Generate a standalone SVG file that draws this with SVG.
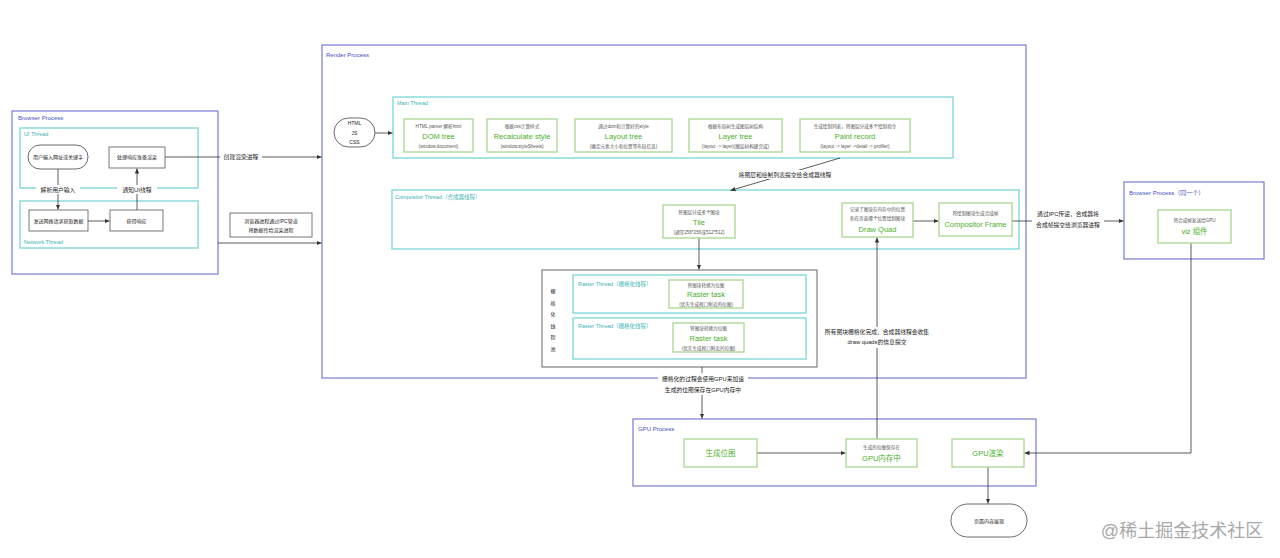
<svg xmlns="http://www.w3.org/2000/svg" width="1280" height="558" viewBox="0 0 1280 558">
<defs>
<marker id="a" markerWidth="6" markerHeight="6" refX="5" refY="3" orient="auto" markerUnits="userSpaceOnUse"><path d="M0,0.8 L5,3 L0,5.2 z" fill="#333"/></marker>
<style>
text{font-family:"Liberation Sans","Noto Sans CJK SC",sans-serif;text-anchor:middle}
.proc{fill:none;stroke:#6a6ed0;stroke-width:1.1}
.thr{fill:none;stroke:#7ad6d6;stroke-width:1.3}
.box{fill:#fff;stroke:#a8d68e;stroke-width:1.3}
.plain{fill:#fff;stroke:#555;stroke-width:0.8}
.pt{font-size:6px;fill:#3f4fc0;text-anchor:start}
.tt{font-size:5.5px;fill:#3ab4b4;text-anchor:start}
.g{font-size:7.5px;fill:#4caf2a}
.s{font-size:4.6px;fill:#555}
.d{font-size:5px;fill:#222}
.lbl{font-size:5.8px;fill:#222}
.edge{stroke:#333;stroke-width:0.8;fill:none;marker-end:url(#a)}
.bg{fill:#fff}
</style>
</defs>
<rect width="1280" height="558" fill="#fff"/>

<!-- containers -->
<g id="browser-process">
<rect class="proc" x="12" y="111" width="206" height="163"/>
<text class="pt" x="18" y="120">Browser Process</text>
</g>
<g id="ui-thread">
<rect class="thr" x="20" y="128" width="178" height="60"/>
<text class="tt" x="24" y="136">UI Thread</text>
</g>
<g id="network-thread">
<rect class="thr" x="20" y="201" width="178" height="47"/>
<text class="tt" x="24" y="244">Network Thread</text>
</g>
<g id="render-process">
<rect class="proc" x="322" y="45" width="704" height="333"/>
<text class="pt" x="326" y="57">Render Process</text>
</g>
<g id="main-thread">
<rect class="thr" x="393" y="97" width="560" height="61"/>
<text class="tt" x="397" y="105">Main Thread</text>
</g>
<g id="compositor-thread">
<rect class="thr" x="392" y="190" width="627" height="59"/>
<text class="tt" x="395" y="199">Compositor Thread（合成器线程）</text>
</g>
<g id="raster-pool">
<rect fill="none" stroke="#555" stroke-width="0.9" x="542" y="270" width="275" height="97"/>
<text class="d" x="553" y="293">栅</text>
<text class="d" x="553" y="304.5">格</text>
<text class="d" x="553" y="316">化</text>
<text class="d" x="553" y="327.5">线</text>
<text class="d" x="553" y="339">程</text>
<text class="d" x="553" y="350.5">池</text>
</g>
<g id="raster-thread-1">
<rect class="thr" x="573" y="275" width="233" height="38"/>
<text class="tt" x="578" y="286">Raster Thread（栅格化线程）</text>
</g>
<g id="raster-thread-2">
<rect class="thr" x="573" y="318" width="233" height="41"/>
<text class="tt" x="578" y="328">Raster Thread（栅格化线程）</text>
</g>
<g id="browser-process-2">
<rect class="proc" x="1124" y="182" width="140" height="77"/>
<text class="pt" x="1129" y="195">Browser Process（同一个）</text>
</g>
<g id="gpu-process">
<rect class="proc" x="633" y="419" width="403" height="67"/>
<text class="pt" x="638" y="431">GPU Process</text>
</g>

<!-- connectors -->
<g id="connectors">
<path class="edge" d="M58,169 V209.5"/>
<rect class="bg" x="36" y="185" width="44" height="9"/>
<text class="lbl" x="58" y="191.5">解析用户输入</text>
<path class="edge" d="M88,221 H109.5"/>
<path class="edge" d="M137,210 V168.5"/>
<rect class="bg" x="117" y="185" width="40" height="9"/>
<text class="lbl" x="137" y="191.5">通知UI线程</text>
<path class="edge" d="M165,157 H321.5"/>
<rect class="bg" x="220" y="152" width="42" height="10"/>
<text class="lbl" x="241" y="159">创建渲染进程</text>
<path class="edge" d="M218,243 H321.5"/>
<path class="edge" d="M375,133 H392.5"/>
<path class="edge" d="M840,158 L730.5,190.5"/>
<rect class="bg" x="732" y="170" width="106" height="9"/>
<text class="lbl" x="785" y="176.5">将图层和绘制列表提交给合成器线程</text>
<path class="edge" d="M699,238 V269.5"/>
<path class="edge" d="M913,221 H938.5"/>
<path class="edge" d="M1012,221 H1123.5"/>
<rect class="bg" x="1032" y="208" width="72" height="22"/>
<text class="lbl" x="1068" y="216">通过IPC传递，合成器将</text>
<text class="lbl" x="1068" y="227">合成帧提交给浏览器进程</text>
<path class="edge" d="M1191,243 V453 H1024.5"/>
<path class="edge" d="M702,367 V418.5"/>
<rect class="bg" x="658" y="373" width="90" height="22"/>
<text class="lbl" x="703" y="381">栅格化的过程会使用GPU来加速</text>
<text class="lbl" x="703" y="391.5">生成的位图保存在GPU内存中</text>
<path class="edge" d="M757,453 H845.5"/>
<path class="edge" d="M877,439 V237.5"/>
<rect class="bg" x="824" y="327" width="106" height="21"/>
<text class="lbl" x="877" y="334">所有图块栅格化完成，合成器线程会收集</text>
<text class="lbl" x="877" y="344">draw quads的信息提交</text>
<path class="edge" d="M988,467 V503.5"/>
</g>

<!-- nodes -->
<g id="user-input">
<rect x="28" y="145" width="60" height="24" rx="12" fill="#fff" stroke="#444" stroke-width="0.8"/>
<text class="d" x="58" y="158.5">用户输入网址或关键字</text>
</g>
<g id="prepare-render">
<rect class="plain" x="109" y="147" width="56" height="21"/>
<text class="d" x="137" y="159">处理响应准备渲染</text>
</g>
<g id="send-request">
<rect class="plain" x="29" y="210" width="59" height="21"/>
<text class="d" x="58.5" y="222.5">发送网络请求获取数据</text>
</g>
<g id="get-response">
<rect class="plain" x="110" y="210" width="53" height="21"/>
<text class="d" x="136.5" y="222.5">获得响应</text>
</g>
<g id="ipc-note">
<rect class="plain" x="230" y="213" width="82" height="24"/>
<text class="d" x="271" y="222.5">浏览器进程通过IPC管道</text>
<text class="d" x="271" y="232">将数据传给渲染进程</text>
</g>
<g id="html-js-css">
<rect x="334" y="118" width="41" height="29" rx="14.5" fill="#fff" stroke="#444" stroke-width="0.8"/>
<text class="d" x="354.5" y="125">HTML</text>
<text class="d" x="354.5" y="134.5">JS</text>
<text class="d" x="354.5" y="144">CSS</text>
</g>
<g id="dom-tree">
<rect class="box" x="404" y="119" width="69" height="33"/>
<text class="s" x="438.5" y="127.5">HTML parser 解析html</text>
<text class="g" x="438.5" y="138.5">DOM tree</text>
<text class="s" x="438.5" y="148">(window.document)</text>
</g>
<g id="recalculate-style">
<rect class="box" x="487" y="119" width="70" height="33"/>
<text class="s" x="522" y="127.5">根据css计算样式</text>
<text class="g" x="522" y="138.5">Recalculate style</text>
<text class="s" x="522" y="148">(window.styleSheets)</text>
</g>
<g id="layout-tree">
<rect class="box" x="575" y="119" width="97" height="33"/>
<text class="s" x="623.5" y="127.5">通过dom和计算好的style</text>
<text class="g" x="623.5" y="138.5">Layout tree</text>
<text class="s" x="623.5" y="148">(确定元素大小和位置等布局信息)</text>
</g>
<g id="layer-tree">
<rect class="box" x="689" y="119" width="93" height="33"/>
<text class="s" x="735.5" y="127.5">根据布局树生成图层树结构</text>
<text class="g" x="735.5" y="138.5">Layer tree</text>
<text class="s" x="735.5" y="148">(layout -&gt; layer)(图层树构建完成)</text>
</g>
<g id="paint-record">
<rect class="box" x="800" y="119" width="110" height="33"/>
<text class="s" x="855" y="127.5">生成绘制列表，将图层分成多个绘制指令</text>
<text class="g" x="855" y="138.5">Paint record</text>
<text class="s" x="855" y="148">(layout -&gt; layer -&gt;detail -&gt; profiler)</text>
</g>
<g id="tile">
<rect class="box" x="663" y="205" width="72" height="33"/>
<text class="s" x="699" y="213.5">将图层分成多个图块</text>
<text class="g" x="699" y="224.5">Tile</text>
<text class="s" x="699" y="234">(通常256*256或512*512)</text>
</g>
<g id="draw-quad">
<rect class="box" x="842" y="203" width="71" height="34"/>
<text class="s" x="877.5" y="211">记录了图块在内存中的位置</text>
<text class="s" x="877.5" y="220">和在页面哪个位置绘制图块</text>
<text class="g" x="877.5" y="232">Draw Quad</text>
</g>
<g id="compositor-frame">
<rect class="box" x="939" y="203" width="73" height="33"/>
<text class="s" x="975.5" y="215">将绘制图块生成合成帧</text>
<text class="g" x="975.5" y="227">Compositor Frame</text>
</g>
<g id="viz">
<rect class="box" x="1158" y="210" width="73" height="33"/>
<text class="s" x="1194.5" y="221.5">将合成帧发送给GPU</text>
<text class="g" x="1194.5" y="233.5">viz 组件</text>
</g>
<g id="raster-task-1">
<rect class="box" x="669" y="280" width="74" height="28"/>
<text class="s" x="706" y="286.5">将图块转换为位图</text>
<text class="g" x="706" y="297">Raster task</text>
<text class="s" x="706" y="305.5">(优先生成视口附近的位图)</text>
</g>
<g id="raster-task-2">
<rect class="box" x="673" y="323" width="71" height="29"/>
<text class="s" x="708.5" y="329.5">将图块转换为位图</text>
<text class="g" x="708.5" y="340.5">Raster task</text>
<text class="s" x="708.5" y="349.5">(优先生成视口附近的位图)</text>
</g>
<g id="gen-bitmap">
<rect class="box" x="684" y="439" width="73" height="28"/>
<text class="g" x="720.5" y="455.5">生成位图</text>
</g>
<g id="gpu-memory">
<rect class="box" x="846" y="439" width="71" height="28"/>
<text class="s" x="881.5" y="449">生成的位图保存在</text>
<text class="g" x="881.5" y="461">GPU内存中</text>
</g>
<g id="gpu-render">
<rect class="box" x="952" y="439" width="72" height="28"/>
<text class="g" x="988" y="455.5">GPU渲染</text>
</g>
<g id="page-display">
<rect x="951" y="504" width="76" height="33" rx="16.5" fill="#fff" stroke="#444" stroke-width="0.8"/>
<text class="d" x="989" y="522.5">页面内容展现</text>
</g>
<text x="1182" y="537" font-size="18" fill="#a8a8a8">@稀土掘金技术社区</text>
</svg>
